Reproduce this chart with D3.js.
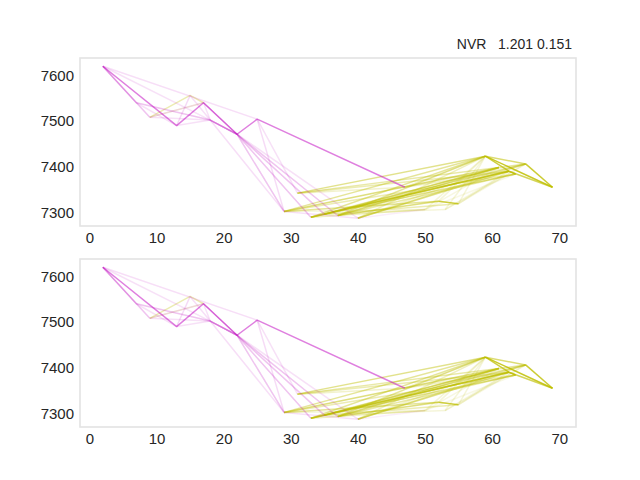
<!DOCTYPE html>
<html>
<head>
<meta charset="utf-8">
<script src="https://cdn.jsdelivr.net/npm/d3@7/dist/d3.min.js"></script>
<style>
  body { margin: 0; background: #fff; }
  svg { display: block; }
  text { font-family: "Liberation Sans", Arial, sans-serif; fill: #262626; }
</style>
</head>
<body>
<script>
// ---- Data ----
const xTicks = [0, 10, 20, 30, 40, 50, 60, 70];
const yTicks = [7300, 7400, 7500, 7600];
const titleText = "NVR   1.201 0.151";

// node positions (x value, cost value)
const nodeNames = ["A","B","C","D","E","F","G","H","I","J","K","L","M","N","O","P","Q","R","T","S","U","V1","V2","V3","W","X"];
const nodeX     = [2, 7, 9, 13, 15, 17, 18, 22, 25, 47, 29, 31, 33, 35, 37, 40, 50, 53, 52, 55, 59, 61, 62.5, 63.5, 65, 69];
const nodeY     = [7620, 7540, 7508, 7490, 7556, 7540, 7502, 7471, 7504, 7355, 7302, 7342, 7289, 7296, 7293, 7287, 7306, 7306, 7324, 7319, 7423, 7398, 7390, 7384, 7406, 7355];

// magenta trajectories: [path, opacity]
const magentaPaths = [
  ["A D F H I J", 0.5],
  ["A B", 0.15],
  ["A C", 0.13],
  ["B D", 0.12],
  ["A B G H K", 0.12],
  ["A C G H N", 0.12],
  ["A I", 0.13],
  ["A G H M", 0.12],
  ["B G H O", 0.12],
  ["C F H P", 0.12],
  ["E D", 0.15],
  ["E G K", 0.13],
  ["D G H K", 0.12],
  ["F G H N", 0.12],
  ["F H M", 0.12],
  ["I K", 0.14],
  ["I L", 0.12],
  ["H O", 0.12],
  ["K P", 0.12],
  ["P Q", 0.07]
];

// olive trajectories: [path, opacity]
const olivePaths = [
  ["C E F", 0.3],
  ["C F", 0.15],
  ["U X", 0.85],
  ["W X", 0.8],
  ["U W", 0.55],
  ["U V2 V3", 0.75],
  ["V2 X", 0.65],
  ["M V2", 0.7],
  ["N V1", 0.55],
  ["T S", 0.75],
  ["O T", 0.5],
  ["L U", 0.45],
  ["L W", 0.35],
  ["K V1", 0.5],
  ["K U", 0.4],
  ["M U", 0.4],
  ["M V3", 0.45],
  ["N W", 0.4],
  ["N V2", 0.5],
  ["O U", 0.4],
  ["O V1", 0.45],
  ["P V2", 0.45],
  ["P W", 0.3],
  ["K T", 0.4],
  ["N S", 0.3],
  ["M Q", 0.25],
  ["K V3", 0.3],
  ["L V2", 0.3],
  ["O W", 0.25],
  ["P U", 0.25],
  ["J U", 0.2],
  ["J V2", 0.2],
  ["Q U", 0.15],
  ["R U", 0.15],
  ["S U", 0.15],
  ["S V2", 0.15],
  ["Q V1", 0.12],
  ["R W", 0.12],
  ["Q V3", 0.1],
  ["R V2", 0.1],
  ["K Q", 0.15],
  ["N R", 0.15],
  ["L J", 0.2],
  ["M V1", 0.25],
  ["O V3", 0.35],
  ["P V1", 0.2],
  ["J W", 0.15],
  ["S W", 0.12],
  ["T U", 0.15]
];

// ---- Drawing ----
const W = 640, H = 480;
const svg = d3.select("body").append("svg").attr("width", W).attr("height", H);

const panels = [{top: 58, bottom: 226}, {top: 259, bottom: 427}];
const left = 80, right = 576;
const xDomain = [-1.4, 72.5];
const yDomain = [7270, 7638];

const nodeIndex = {};
nodeNames.forEach((n, i) => nodeIndex[n] = i);

panels.forEach((p, pi) => {
  const x = d3.scaleLinear().domain(xDomain).range([left, right]);
  const y = d3.scaleLinear().domain(yDomain).range([p.bottom, p.top]);
  const g = svg.append("g");

  const line = d3.line().x(d => x(nodeX[nodeIndex[d]])).y(d => y(nodeY[nodeIndex[d]]));

  const clipId = "clip" + pi;
  svg.append("clipPath").attr("id", clipId).append("rect")
    .attr("x", left).attr("y", p.top).attr("width", right - left).attr("height", p.bottom - p.top);

  const lines = g.append("g").attr("clip-path", `url(#${clipId})`);
  olivePaths.forEach(([path, op]) => {
    lines.append("path").attr("d", line(path.split(" ")))
      .attr("fill", "none").attr("stroke", "#bfbf00").attr("stroke-opacity", op)
      .attr("stroke-width", 1.5).attr("stroke-linejoin", "round");
  });
  magentaPaths.forEach(([path, op]) => {
    lines.append("path").attr("d", line(path.split(" ")))
      .attr("fill", "none").attr("stroke", "#bf00bf").attr("stroke-opacity", op)
      .attr("stroke-width", 1.5).attr("stroke-linejoin", "round");
  });

  // frame
  g.append("rect").attr("x", left).attr("y", p.top).attr("width", right - left).attr("height", p.bottom - p.top)
    .attr("fill", "none").attr("stroke", "#e3e3e3").attr("stroke-width", 1.6);

  // axes (labels only, no tick lines)
  const xAxis = d3.axisBottom(x).tickValues(xTicks).tickSize(0).tickPadding(6).tickFormat(d3.format("d"));
  const gx = g.append("g").attr("transform", `translate(0,${p.bottom})`).call(xAxis);
  gx.select(".domain").remove();
  gx.selectAll("text").attr("font-size", 15).attr("font-family", "Liberation Sans, Arial, sans-serif").attr("fill", "#262626");

  const yAxis = d3.axisLeft(y).tickValues(yTicks).tickSize(0).tickPadding(6).tickFormat(d3.format("d"));
  const gy = g.append("g").attr("transform", `translate(${left},0)`).call(yAxis);
  gy.select(".domain").remove();
  gy.selectAll("text").attr("font-size", 15).attr("font-family", "Liberation Sans, Arial, sans-serif").attr("fill", "#262626");
});

svg.append("text").attr("x", 572).attr("y", 49).attr("text-anchor", "end")
  .attr("font-size", 14).attr("xml:space", "preserve").style("white-space", "pre").text(titleText);
</script>
</body>
</html>
